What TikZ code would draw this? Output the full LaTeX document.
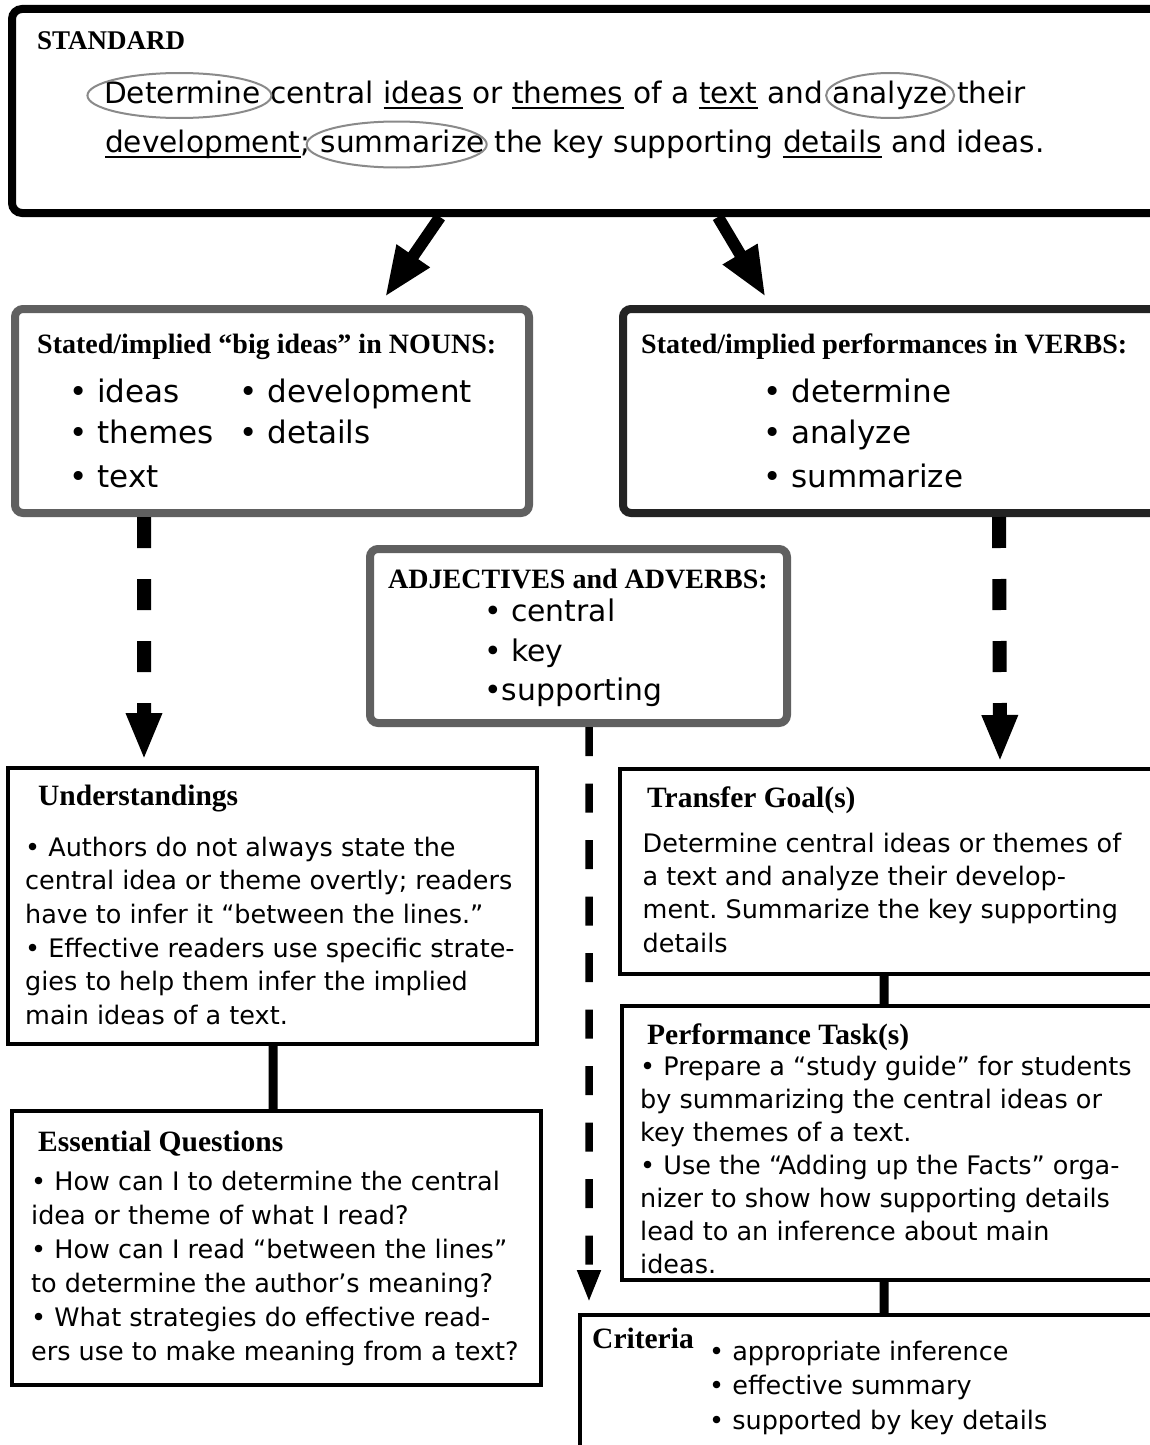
\documentclass[tikz,border=0pt]{standalone}
\usepackage{fontspec}
\newfontfamily\bodyf{DejaVu Sans}
\newfontfamily\headf{Liberation Serif}
\usetikzlibrary{arrows.meta,calc}
\frenchspacing
\definecolor{boxgray}{HTML}{606060}
\definecolor{boxdark}{HTML}{232323}
\definecolor{ovalgray}{HTML}{8A8A8A}
\newcommand{\wsp}{\ \mbox{}}
\tikzset{
  stdbox/.style={draw=black, line width=8pt, rounded corners=10pt, inner sep=0pt, anchor=north west},
  graybox/.style={draw=boxgray, line width=8pt, rounded corners=8pt, inner sep=0pt, anchor=north west},
  darkbox/.style={draw=boxdark, line width=8pt, rounded corners=8pt, inner sep=0pt, anchor=north west},
  plainbox/.style={draw=black, line width=4pt, inner sep=0pt, anchor=north west},
  word/.style={font={\bodyf\fontsize{29.6pt}{36pt}\selectfont}, inner sep=0pt, text height=22pt, text depth=7pt, anchor=base west},
  bigitem/.style={font={\bodyf\fontsize{31pt}{36pt}\selectfont}, inner sep=0pt, anchor=base west},
  miditem/.style={font={\bodyf\fontsize{29.8pt}{36pt}\selectfont}, inner sep=0pt, anchor=base west},
  headlbl/.style={font={\headf\bfseries\fontsize{28pt}{32pt}\selectfont}, inner sep=0pt, anchor=base west},
  titlelbl/.style={font={\headf\bfseries\fontsize{29.5pt}{32pt}\selectfont}, inner sep=0pt, anchor=base west},
  bodytxt/.style={font={\bodyf\fontsize{25.5pt}{#1}\selectfont}, align=left, inner sep=0pt, anchor=north west},
  oval/.style={draw=ovalgray, line width=2pt},
  ul/.style={draw=black, line width=2pt},
  bigarrow/.style={draw=black, line width=12pt, -{Triangle[width=37pt,length=50pt]}},
  dasharrow/.style={draw=black, line width=14pt, dash pattern=on 31pt off 31pt, -{Triangle[width=33pt,length=47pt]}},
  thinarrow/.style={draw=black, line width=7.5pt, dash pattern=on 29pt off 27.5pt, -{Triangle[width=22pt,length=32pt]}},
  link/.style={draw=black, line width=9pt}
}
\begin{document}
\begin{tikzpicture}[x=1pt, y=-1pt]
\useasboundingbox (0,0) rectangle (1149,1445);
\fill[white] (0,0) rectangle (1149,1445);

% ---------- boxes ----------
\node[stdbox, minimum width=1150pt, minimum height=204pt] (std) at (8,5) {};
\node[graybox, minimum width=514pt, minimum height=204pt] (nouns) at (11,305) {};
\node[darkbox, minimum width=542pt, minimum height=204pt] (verbs) at (619,305) {};
\node[graybox, minimum width=417pt, minimum height=174pt] (adj) at (366,545) {};
\node[plainbox, minimum width=529.3pt, minimum height=276pt] (und) at (5.7,766) {};
\node[plainbox, minimum width=529.4pt, minimum height=274pt] (eq) at (9.6,1109) {};
\node[plainbox, minimum width=543.3pt, minimum height=205pt] (tg) at (617.7,766.5) {};
\node[plainbox, minimum width=541.4pt, minimum height=274pt] (pt) at (619.6,1004) {};
\node[plainbox, minimum width=583.3pt, minimum height=160pt] (cr) at (577.7,1313) {};

% ---------- standard ----------
\node[headlbl, font={\headf\bfseries\fontsize{27pt}{30pt}\selectfont}] (stdT) at (37,50) {STANDARD};
\node[word] (w1) at (104,103) {Determine};
\node[word] (w2) at (w1.base east) {\ central\wsp};
\node[word] (w3) at (w2.base east) {ideas};
\node[word] (w4) at (w3.base east) {\ or\wsp};
\node[word] (w5) at (w4.base east) {themes};
\node[word] (w6) at (w5.base east) {\ of a\wsp};
\node[word] (w7) at (w6.base east) {text};
\node[word] (w8) at (w7.base east) {\ and\wsp};
\node[word] (w9) at (w8.base east) {analyze};
\node[word] (w10) at (w9.base east) {\ their};
\node[word] (v1) at (105,152) {development};
\node[word] (v2) at (v1.base east) {;\wsp};
\node[word] (v3) at (v2.base east) {summarize};
\node[word] (v4) at (v3.base east) {\ the key supporting\wsp};
\node[word] (v5) at (v4.base east) {details};
\node[word] (v6) at (v5.base east) {\ and ideas.};
\foreach \w in {w3,w5,w7,v1,v5}
  \draw[ul] ([yshift=-5pt]\w.base west) -- ([yshift=-5pt]\w.base east);
\draw[oval] ([xshift=-3pt]w1.center) ellipse [x radius=92pt, y radius=22.5pt];
\draw[oval] (w9.center) ellipse [x radius=64pt, y radius=22.5pt];
\draw[oval] ([xshift=-6pt]v3.center) ellipse [x radius=90pt, y radius=23pt];

% ---------- nouns / verbs / adjectives ----------
\node[headlbl] (nounsT) at (37,353) {Stated/implied “big ideas” in NOUNS:};
\node[bigitem] (n1) at (69,402) {• ideas};
\node[bigitem] (n2) at (69,443) {• themes};
\node[bigitem] (n3) at (69,487) {• text};
\node[bigitem] (n4) at (239,402) {• development};
\node[bigitem] (n5) at (239,443) {• details};

\node[headlbl] (verbsT) at (641,353) {Stated/implied performances in VERBS:};
\node[bigitem] (b1) at (763,402) {• determine};
\node[bigitem] (b2) at (763,443) {• analyze};
\node[bigitem] (b3) at (763,487) {• summarize};

\node[headlbl] (adjT) at (388,588) {ADJECTIVES and ADVERBS:};
\node[miditem] (a1) at (484,621.7) {• central};
\node[miditem] (a2) at (484,661.7) {• key};
\node[miditem] (a3) at (484,700) {•supporting};

% ---------- lower boxes ----------
\node[titlelbl] (undT) at (38,805) {Understandings};
\node[bodytxt=33.6pt] (undB) at (25,832.5) {\strut• Authors do not always state the\\
central idea or theme overtly; readers\\
have to infer it “between the lines.”\\
• Effective readers use specific strate-\\
gies to help them infer the implied\\
main ideas of a text.};

\node[titlelbl] (eqT) at (38,1151) {Essential Questions};
\node[bodytxt=34pt] (eqB) at (31,1166.2) {\strut• How can I to determine the central\\
idea or theme of what I read?\\
• How can I read “between the lines”\\
to determine the author’s meaning?\\
• What strategies do effective read-\\
ers use to make meaning from a text?};

\node[titlelbl] (tgT) at (647,807) {Transfer Goal(s)};
\node[bodytxt=33.3pt] (tgB) at (642.5,828.7) {\strut Determine central ideas or themes of\\
a text and analyze their develop-\\
ment. Summarize the key supporting\\
details};

\node[titlelbl] (ptT) at (647,1044) {Performance Task(s)};
\node[bodytxt=33pt] (ptB) at (640,1051.9) {\strut• Prepare a “study guide” for students\\
by summarizing the central ideas or\\
key themes of a text.\\
• Use the “Adding up the Facts” orga-\\
nizer to show how supporting details\\
lead to an inference about main\\
ideas.};

\node[titlelbl] (crT) at (592,1348) {Criteria};
\node[bodytxt=34.5pt] (crB) at (709,1335.85) {\strut• appropriate inference\\
• effective summary\\
• supported by key details};

% ---------- connectors ----------
\draw[bigarrow] ([xshift=-147pt]std.south) -- ([xshift=113pt,yshift=8pt]nouns.north);
\draw[bigarrow] ([xshift=131pt]std.south) -- ([xshift=-128.4pt,yshift=8pt]verbs.north);
\draw[dasharrow] ([xshift=-128pt]nouns.south) -- ([xshift=-128.35pt,yshift=6pt]und.north);
\draw[dasharrow] ([xshift=105pt]verbs.south) -- ([xshift=108.65pt,yshift=4.5pt]tg.north);
\draw[thinarrow] ([xshift=10.5pt]adj.south) -- ([xshift=-282.35pt,yshift=11pt]cr.north);
\draw[link] ([xshift=0.65pt]und.south) -- ([xshift=-3.3pt]eq.north);
\draw[link] ([xshift=-7.35pt]tg.south) -- ([xshift=-8.3pt]pt.north);
\draw[link] ([xshift=-8.3pt]pt.south) -- ([xshift=12.65pt]cr.north);
\end{tikzpicture}
\end{document}
